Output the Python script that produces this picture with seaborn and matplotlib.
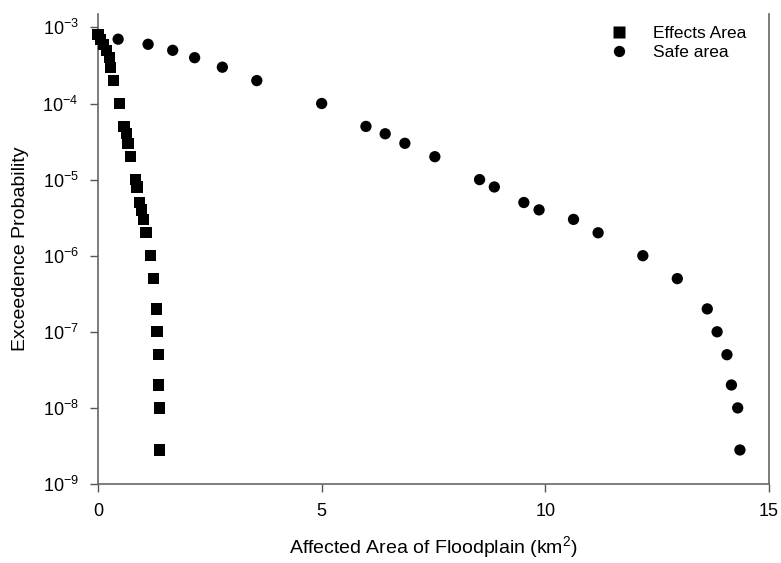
import numpy as np
import matplotlib
matplotlib.use("Agg")
import matplotlib.pyplot as plt
import pandas as pd
import seaborn as sns

# exceedence probabilities for both series
effects_x = [0.00, 0.06, 0.13, 0.19, 0.25, 0.28, 0.34, 0.48, 0.58, 0.63, 0.67, 0.72,
             0.84, 0.87, 0.93, 0.97, 1.02, 1.07, 1.17, 1.24, 1.30, 1.32, 1.35, 1.36,
             1.37, 1.37]
effects_p = [8e-4, 7e-4, 6e-4, 5e-4, 4e-4, 3e-4, 2e-4, 1e-4, 5e-5, 4e-5, 3e-5, 2e-5,
             1e-5, 8e-6, 5e-6, 4e-6, 3e-6, 2e-6, 1e-6, 5e-7, 2e-7, 1e-7, 5e-8, 2e-8,
             1e-8, 2.8e-9]

safe_x = [0.00, 0.45, 1.12, 1.67, 2.16, 2.78, 3.55, 5.00, 5.99, 6.42, 6.86, 7.53,
          8.53, 8.86, 9.52, 9.86, 10.63, 11.18, 12.18, 12.95, 13.62, 13.84, 14.06,
          14.16, 14.30, 14.35]
safe_p = [8e-4, 7e-4, 6e-4, 5e-4, 4e-4, 3e-4, 2e-4, 1e-4, 5e-5, 4e-5, 3e-5, 2e-5,
          1e-5, 8e-6, 5e-6, 4e-6, 3e-6, 2e-6, 1e-6, 5e-7, 2e-7, 1e-7, 5e-8, 2e-8,
          1e-8, 2.8e-9]

df = pd.DataFrame({
    "area": effects_x + safe_x,
    "prob": effects_p + safe_p,
    "series": ["Effects Area"] * len(effects_x) + ["Safe area"] * len(safe_x),
})

sns.set_style("ticks")
plt.rcParams["font.family"] = ["Liberation Sans", "DejaVu Sans"]
plt.rcParams["mathtext.fontset"] = "custom"
plt.rcParams["mathtext.rm"] = "Liberation Sans"
plt.rcParams["mathtext.it"] = "Liberation Sans"
plt.rcParams["text.color"] = "black"
plt.rcParams["axes.labelcolor"] = "black"
plt.rcParams["xtick.labelcolor"] = "black"
plt.rcParams["ytick.labelcolor"] = "black"

fig = plt.figure(figsize=(7.81, 5.63), dpi=100)
ax = fig.add_axes([98 / 781, 1 - 484 / 563, (769 - 98) / 781, (484 - 14) / 563])

sns.scatterplot(data=df, x="area", y="prob", style="series",
                markers={"Effects Area": "s", "Safe area": "o"},
                color="black", s=66, edgecolor="none", ax=ax, clip_on=False, zorder=3)

ax.set_yscale("log")
ax.set_xlim(0, 15)
ax.set_ylim(1e-9, 1.5e-3)
ax.set_xticks([0, 5, 10, 15])
ax.set_yticks([1e-9, 1e-8, 1e-7, 1e-6, 1e-5, 1e-4, 1e-3])
ax.yaxis.set_minor_locator(matplotlib.ticker.NullLocator())
ax.tick_params(axis="both", direction="out", length=6, width=1, color="#555555",
               labelsize=13, pad=8)

for side in ["left", "bottom", "right"]:
    ax.spines[side].set_color("#666666")
    ax.spines[side].set_linewidth(1.2)
ax.spines["top"].set_visible(False)

ax.set_xlabel("Affected Area of Floodplain (km$^2$)", fontsize=14, labelpad=10)
ax.set_ylabel("Exceedence Probability", fontsize=14, labelpad=10)

leg = ax.legend(loc="upper right", frameon=False, fontsize=12.5, handletextpad=1.0,
                labelspacing=0.2, borderaxespad=0.3, bbox_to_anchor=(0.985, 1.0))
for h in leg.legend_handles:
    h.set_color("black")

fig.savefig("out.png", dpi=100)
